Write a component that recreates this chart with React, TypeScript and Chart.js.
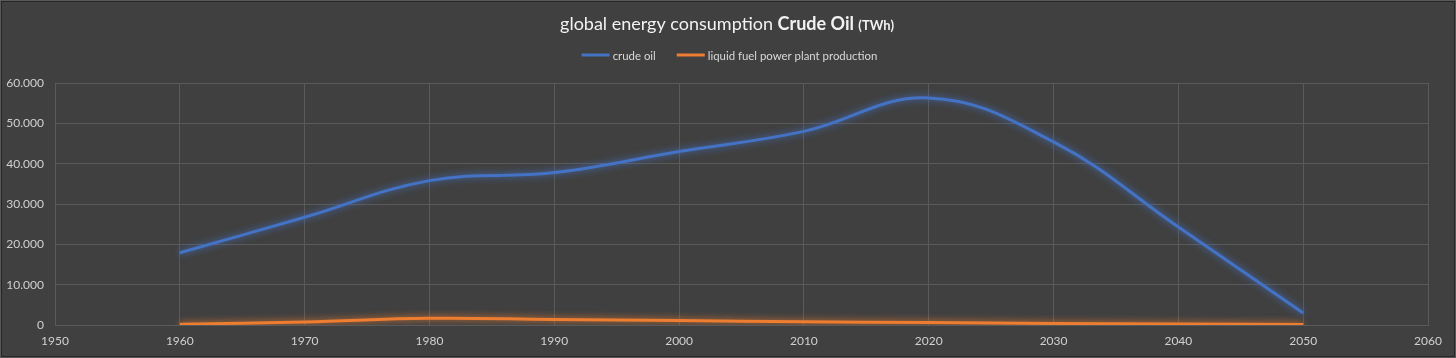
import { useEffect, useRef } from 'react';
import { Chart, registerables } from 'chart.js';

Chart.register(...registerables);

// ---- data ----
const years = [1960, 1970, 1980, 1990, 2000, 2010, 2020, 2030, 2040, 2050];
const crudeOil = [17900, 26700, 35800, 37800, 43000, 48000, 56300, 45400, 24300, 3000];
const liquidFuel = [200, 750, 1650, 1350, 1100, 800, 600, 400, 250, 100];
const seriesLabels = ['crude oil', 'liquid fuel power plant production'];
const titleParts = ['global energy consumption ', 'Crude Oil ', '(TWh)'];
const xMin = 1950;
const xMax = 2060;
const yMax = 60000;

const BLUE = '#4472C4';
const ORANGE = '#ED7D31';
const BG = '#404040';
const GRID = '#5a5a5a';
const FONT = 'Lato, "Open Sans", sans-serif';

const glowPlugin = {
  id: 'glow',
  beforeDatasetDraw(chart: any, args: any) {
    const ctx = chart.ctx;
    const ds = chart.data.datasets[args.index];
    ctx.save();
    ctx.shadowColor = ds.borderColor;
    ctx.shadowBlur = 7;
  },
  afterDatasetDraw(chart: any) {
    chart.ctx.restore();
  },
};

const decorPlugin = {
  id: 'decor',
  beforeDraw(chart: any) {
    const { ctx, width, height } = chart;
    ctx.save();
    ctx.fillStyle = BG;
    ctx.fillRect(0, 0, width, height);
    ctx.restore();
  },
  afterDraw(chart: any) {
    const { ctx, width, height } = chart;
    ctx.save();
    // frame
    ctx.strokeStyle = '#595959';
    ctx.lineWidth = 1;
    ctx.strokeRect(0.5, 0.5, width - 1, height - 1);
    ctx.strokeStyle = '#262626';
    ctx.strokeRect(1.5, 1.5, width - 3, height - 3);

    // title
    const fonts = [`18px ${FONT}`, `bold 18px ${FONT}`, `bold 13px ${FONT}`];
    let total = 0;
    const widths = titleParts.map((t, i) => {
      ctx.font = fonts[i];
      const w = ctx.measureText(t).width;
      total += w;
      return w;
    });
    let x = 727 - total / 2;
    ctx.fillStyle = '#f2f2f2';
    ctx.textBaseline = 'alphabetic';
    ctx.textAlign = 'left';
    titleParts.forEach((t, i) => {
      ctx.font = fonts[i];
      ctx.fillText(t, x, 30);
      x += widths[i];
    });

    // legend
    const lineW = 28;
    const gapText = 3;
    const gapItem = 21;
    ctx.font = `11.4px ${FONT}`;
    const ds = chart.data.datasets;
    const itemWidths = ds.map((d: any) => lineW + gapText + ctx.measureText(d.label).width);
    const legendTotal = itemWidths.reduce((a: number, b: number) => a + b, 0) + gapItem * (ds.length - 1);
    let lx = 729.5 - legendTotal / 2;
    const ly = 55;
    ds.forEach((d: any, i: number) => {
      ctx.fillStyle = d.borderColor;
      ctx.fillRect(lx, ly - 1.5, lineW, 3);
      ctx.fillStyle = '#d9d9d9';
      ctx.textBaseline = 'middle';
      ctx.fillText(d.label, lx + lineW + gapText, ly + 1);
      lx += itemWidths[i] + gapItem;
    });
    ctx.restore();
  },
};

export default function App() {
  const ref = useRef<HTMLCanvasElement | null>(null);

  useEffect(() => {
    document.body.style.margin = '0';
    const canvas = ref.current;
    if (!canvas) return;
    const chart = new Chart(canvas, {
      type: 'line',
      data: {
        datasets: [
          {
            label: seriesLabels[0],
            data: years.map((y, i) => ({ x: y, y: crudeOil[i] })),
            borderColor: BLUE,
            backgroundColor: BLUE,
            borderWidth: 3,
            pointRadius: 0,
            tension: 0.4,
          },
          {
            label: seriesLabels[1],
            data: years.map((y, i) => ({ x: y, y: liquidFuel[i] })),
            borderColor: ORANGE,
            backgroundColor: ORANGE,
            borderWidth: 3,
            pointRadius: 0,
            tension: 0.4,
          },
        ],
      },
      options: {
        animation: false,
        responsive: false,
        devicePixelRatio: 1,
        layout: { padding: { top: 83, right: 28, left: 0, bottom: 0 } },
        plugins: {
          legend: { display: false },
          title: { display: false },
          tooltip: { enabled: false },
        },
        scales: {
          x: {
            type: 'linear',
            min: xMin,
            max: xMax,
            grid: { color: GRID, drawTicks: false },
            border: { color: GRID },
            ticks: {
              stepSize: 10,
              padding: 9,
              color: '#d0d0d0',
              font: { family: FONT, size: 12 },
              callback: (v: any) => String(v),
            },
            afterFit: (s: any) => {
              s.height = 33;
            },
          },
          y: {
            min: 0,
            max: yMax,
            grid: { color: GRID, drawTicks: false },
            border: { color: GRID },
            ticks: {
              stepSize: 10000,
              padding: 11,
              color: '#d0d0d0',
              font: { family: FONT, size: 12 },
              callback: (v: any) => (v === 0 ? '0' : `${Math.round(v / 1000)}.000`),
            },
            afterFit: (s: any) => {
              s.width = 55;
            },
          },
        },
      },
      plugins: [decorPlugin, glowPlugin],
    });
    return () => chart.destroy();
  }, []);

  return (
    <div style={{ width: 1456, height: 358 }}>
      <canvas ref={ref} width={1456} height={358} style={{ display: 'block' }} />
    </div>
  );
}
